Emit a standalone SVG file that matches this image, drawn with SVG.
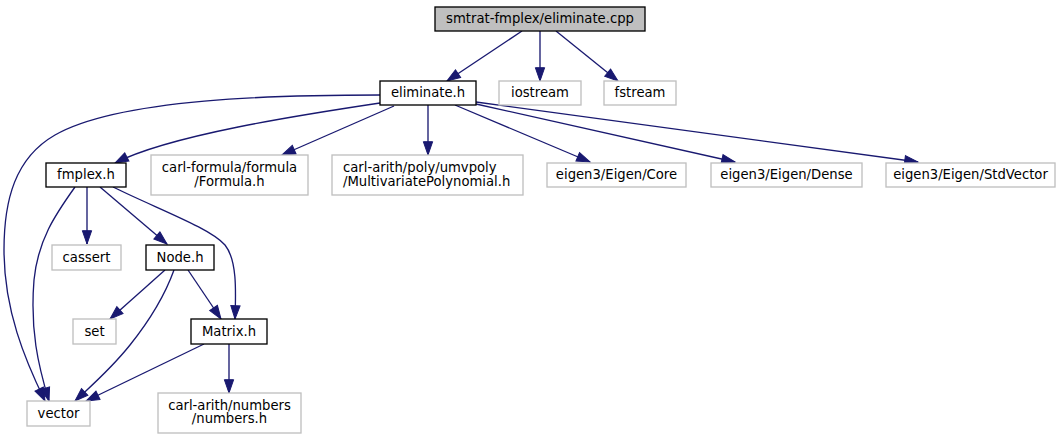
<svg xmlns="http://www.w3.org/2000/svg" width="1063" height="440" viewBox="0 0 1063 440">
<style>
.n rect{fill:#ffffff;stroke:#000000;stroke-width:1.33}
.g rect{fill:#ffffff;stroke:#bfbfbf;stroke-width:1.33}
.root rect{fill:#bfbfbf;stroke:#000000;stroke-width:1.33}
text{font-family:"DejaVu Sans",sans-serif;font-size:13.2px;fill:#000000}
.c{text-anchor:middle}
#edges path{fill:none;stroke:#191970;stroke-width:1.33;marker-end:url(#arr)}
</style>
<defs>
<marker id="arr" markerUnits="userSpaceOnUse" markerWidth="13.3" markerHeight="9.3" viewBox="0 0 13.3 9.3" refX="13.3" refY="4.65" orient="auto" overflow="visible">
<path d="M0,0 L13.3,4.65 L0,9.3 z" fill="#191970" stroke="#191970" stroke-width="1"/>
</marker>
</defs>
<rect width="1063" height="440" fill="#ffffff"/>
<g id="edges">
<path d="M522,31 L447,81"/>
<path d="M540,31 L540,81"/>
<path d="M556,31 L618,81"/>
<path d="M380,95 C280,95 120,98 55,135 C15,158 4,200 4,250 C4,310 25,360 45,401"/>
<path d="M380,103 C300,115 170,135 115,163"/>
<path d="M394,106 L282,155"/>
<path d="M428,105 L428,155"/>
<path d="M455,105 L590,162"/>
<path d="M476,104 L735,162"/>
<path d="M476,102 L918,162"/>
<path d="M75,187 C55,215 38,240 34,280 C30,330 38,365 49,401"/>
<path d="M87,187 L87,244"/>
<path d="M100,187 L167,244"/>
<path d="M113,187 C160,210 210,228 225,245 C237,260 236,290 235,319"/>
<path d="M165,270 L110,319"/>
<path d="M174,270 C165,295 150,320 130,345 C110,370 92,385 75,401"/>
<path d="M188,270 L221,319"/>
<path d="M204,344 L86,401"/>
<path d="M229,344 L229,393"/>
</g>
<g id="node_cpp" class="root"><rect x="435" y="7" width="210" height="24"/><text class="c" x="540" y="23">smtrat-fmplex/eliminate.cpp</text></g>
<g id="node_eliminate_h" class="n"><rect x="380" y="81" width="96" height="24"/><text class="c" x="428" y="97">eliminate.h</text></g>
<g id="node_iostream" class="g"><rect x="499" y="81" width="82" height="24"/><text class="c" x="540" y="97">iostream</text></g>
<g id="node_fstream" class="g"><rect x="604" y="81" width="72" height="24"/><text class="c" x="640" y="97">fstream</text></g>
<g id="node_fmplex_h" class="n"><rect x="46" y="163" width="80" height="24"/><text class="c" x="86" y="179">fmplex.h</text></g>
<g id="node_formula" class="g"><rect x="151" y="155" width="157" height="40"/><text class="c" x="229.5" y="171.5">carl-formula/formula</text><text class="c" x="229.5" y="185.5">/Formula.h</text></g>
<g id="node_multivariate" class="g"><rect x="332" y="155" width="191" height="40"/><text x="343" y="171.5">carl-arith/poly/umvpoly</text><text x="343" y="185.5">/MultivariatePolynomial.h</text></g>
<g id="node_core" class="g"><rect x="547" y="163" width="139" height="24"/><text class="c" x="616.5" y="179">eigen3/Eigen/Core</text></g>
<g id="node_dense" class="g"><rect x="711" y="163" width="151" height="24"/><text class="c" x="786.5" y="179">eigen3/Eigen/Dense</text></g>
<g id="node_stdvector" class="g"><rect x="886" y="163" width="169" height="24"/><text class="c" x="970.5" y="179">eigen3/Eigen/StdVector</text></g>
<g id="node_cassert" class="g"><rect x="52" y="245" width="69" height="25"/><text class="c" x="86.5" y="261.5">cassert</text></g>
<g id="node_node_h" class="n"><rect x="146" y="245" width="68" height="25"/><text class="c" x="180" y="261.5">Node.h</text></g>
<g id="node_set" class="g"><rect x="73" y="319" width="43" height="25"/><text class="c" x="94.5" y="336">set</text></g>
<g id="node_matrix_h" class="n"><rect x="191" y="319" width="76" height="25"/><text class="c" x="229" y="336">Matrix.h</text></g>
<g id="node_vector" class="g"><rect x="27" y="401" width="63" height="25"/><text class="c" x="58.5" y="418">vector</text></g>
<g id="node_numbers" class="g"><rect x="158" y="393" width="143" height="40"/><text class="c" x="229.5" y="409.5">carl-arith/numbers</text><text class="c" x="229.5" y="423">/numbers.h</text></g>
</svg>
